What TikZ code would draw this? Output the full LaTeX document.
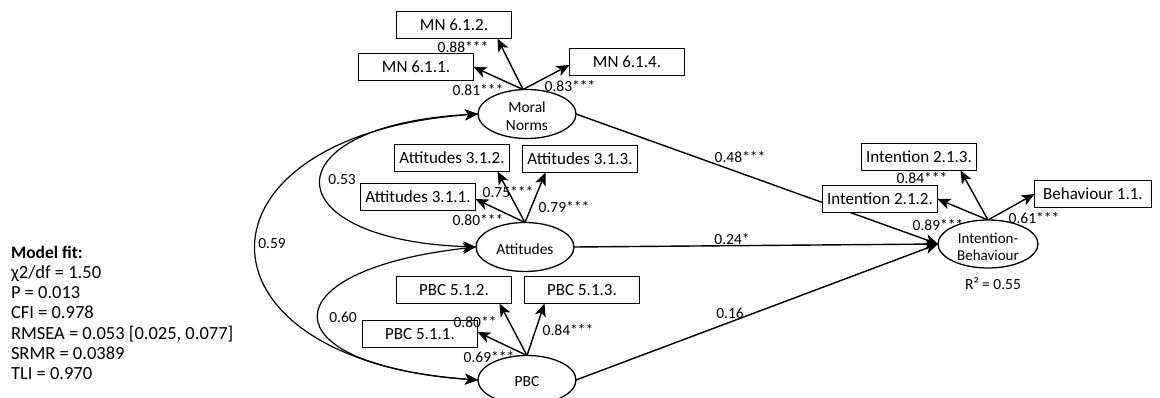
\documentclass[tikz,border=0pt]{standalone}
\usepackage{fontspec}
\setmainfont{Carlito}
\usetikzlibrary{arrows.meta,shapes.geometric,backgrounds}
\begin{document}
\begin{tikzpicture}[x=1pt,y=-1pt,
  every node/.style={inner sep=0pt, outer sep=0pt},
  ind/.style={draw, line width=1.3pt, fill=white, minimum width=115pt, minimum height=27pt, font=\fontsize{17}{20}\selectfont},
  lat/.style={draw, ellipse, line width=1.3pt, fill=white, minimum width=98pt, minimum height=49pt},
  lattext/.style={align=center, font=\fontsize{15.5}{17.5}\selectfont},
  lbl/.style={font=\fontsize{15.5}{18}\selectfont},
  fit/.style={anchor=base west, font=\fontsize{18.5}{20}\selectfont},
  tip/.tip={Stealth[length=13pt,width=11pt,inset=3.5pt]},
  arr/.style={line width=1.4pt, -tip},
  cov/.style={line width=1.2pt, tip-tip}
]
\useasboundingbox (0,0) rectangle (1160,398);

% latent variables
\node[lat] (mn) at (527,114) {};
\node[lattext] (mnt) at (527,116) {Moral\\Norms};
\node[lat] (att) at (525,247) {};
\node[lattext] (attt) at (525,249) {Attitudes};
\node[lat] (pbc) at (527,380) {};
\node[lattext] (pbct) at (527,382) {PBC};
\node[lat, minimum width=100pt, minimum height=48pt] (ib) at (988,244) {};
\node[lattext, font=\fontsize{15}{17}\selectfont] (ibt) at (988,247) {Intention-\\Behaviour};

% indicators
\node[ind] (mn612) at (454,25) {MN 6.1.2.};
\node[ind] (mn611) at (416,67) {MN 6.1.1.};
\node[ind] (mn614) at (627,62) {MN 6.1.4.};
\node[ind] (a312) at (452,158) {Attitudes 3.1.2.};
\node[ind] (a313) at (580,159) {Attitudes 3.1.3.};
\node[ind] (a311) at (418,197) {Attitudes 3.1.1.};
\node[ind] (p512) at (454,290) {PBC 5.1.2.};
\node[ind] (p513) at (582,290) {PBC 5.1.3.};
\node[ind] (p511) at (420,334) {PBC 5.1.1.};
\node[ind] (i213) at (919,157) {Intention 2.1.3.};
\node[ind] (i212) at (880,199) {Intention 2.1.2.};
\node[ind, minimum width=117pt] (b11) at (1093,194) {Behaviour 1.1.};

\begin{pgfonlayer}{background}
\fill[white] (0,0) rectangle (1160,398);
% loadings
\draw[arr] ([xshift=-4pt]mn.north) -- ([xshift=-14pt]mn612.south east);
\draw[arr] ([xshift=-4pt]mn.north) -- (mn611.east);
\draw[arr] ([xshift=-4pt]mn.north) -- ([yshift=-3pt]mn614.west);
\draw[arr] (att.north) -- ([xshift=-12pt]a312.south east);
\draw[arr] (att.north) -- ([yshift=-2pt]a311.east);
\draw[arr] (att.north) -- ([xshift=23pt]a313.south west);
\draw[arr] (pbc.north) -- ([xshift=-12pt]p512.south east);
\draw[arr] (pbc.north) -- ([yshift=2pt]p511.east);
\draw[arr] (pbc.north) -- ([xshift=20pt]p513.south west);
\draw[arr] (ib.north) -- ([xshift=-16pt]i213.south east);
\draw[arr] (ib.north) -- (i212.east);
\draw[arr] (ib.north) -- (b11.west);
% structural paths
\draw[arr] (mn.east) -- (ib.west);
\draw[arr] (att.east) -- (ib.west);
\draw[arr] (pbc.east) -- (ib.west);
% covariances
\draw[cov] (mn.west) .. controls (270,125) and (270,240) .. (att.west);
\draw[cov] (mn.west) .. controls (183,135) and (183,360) .. (pbc.west);
\draw[cov] (att.west) .. controls (267,270) and (267,365) .. (pbc.west);
\end{pgfonlayer}

% loading labels
\node[lbl] (l1) at (463,47) {0.88***};
\node[lbl] (l2) at (478,90) {0.81***};
\node[lbl] (l3) at (570,86) {0.83***};
\node[lbl] (l4) at (508,192) {0.75***};
\node[lbl] (l5) at (564,207) {0.79***};
\node[lbl] (l6) at (478,220) {0.80***};
\node[lbl] (l7) at (475,322) {0.80**};
\node[lbl] (l8) at (568,330) {0.84***};
\node[lbl] (l9) at (489,357) {0.69***};
\node[lbl] (l10) at (922,178) {0.84***};
\node[lbl] (l11) at (938,225) {0.89***};
\node[lbl] (l12) at (1034,218) {0.61***};
\node[lbl] (r2) at (993,284) {R² = 0.55};
% path labels
\node[lbl] (p1) at (740,157) {0.48***};
\node[lbl] (p2) at (732,239) {0.24*};
\node[lbl] (p3) at (730,313) {0.16};
% covariance labels
\node[lbl] (c1) at (342,180) {0.53};
\node[lbl] (c2) at (272,244) {0.59};
\node[lbl] (c3) at (343,317) {0.60};

% model fit
\node[fit, font=\fontsize{17.5}{20}\selectfont\bfseries] (f0) at (11,258.3) {Model fit:};
\node[fit] (f1) at (11,278.5) {χ2/df = 1.50};
\node[fit] (f2) at (11,298.7) {P = 0.013};
\node[fit] (f3) at (11,318.9) {CFI = 0.978};
\node[fit] (f4) at (11,339.1) {RMSEA = 0.053 [0.025, 0.077]};
\node[fit] (f5) at (11,359.3) {SRMR = 0.0389};
\node[fit] (f6) at (11,379.5) {TLI = 0.970};
\end{tikzpicture}
\end{document}
